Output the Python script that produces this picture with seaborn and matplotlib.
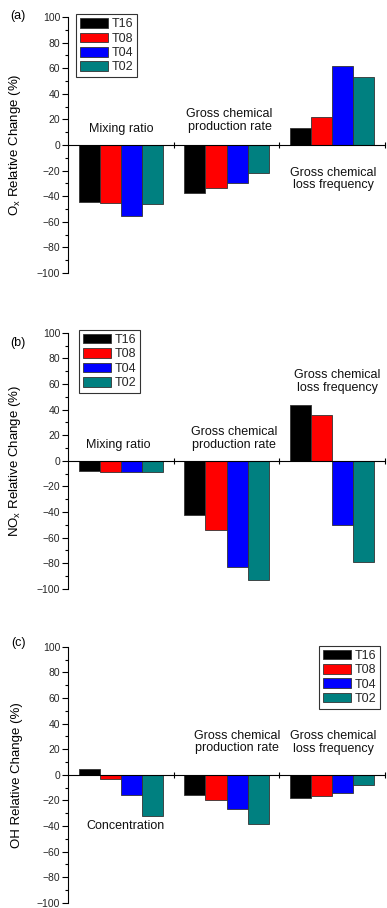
import numpy as np
import pandas as pd
import matplotlib
matplotlib.use("Agg")
import matplotlib.pyplot as plt
from matplotlib.ticker import MultipleLocator
import seaborn as sns

sns.set_theme(style="white")
plt.rcParams["font.family"] = ["Liberation Sans", "DejaVu Sans"]
plt.rcParams["mathtext.default"] = "regular"

runs = ["T16", "T08", "T04", "T02"]
colors = ["#000000", "#FF0000", "#0000FF", "#008080"]
groups = ["g1", "g2", "g3"]

# Relative change (%) per group, listed in run order T16, T08, T04, T02
ox_mixing = [-44.6, -45.7, -55.6, -46.0]
ox_production = [-37.3, -33.4, -29.5, -21.7]
ox_loss = [13.0, 22.0, 61.4, 53.0]

nox_mixing = [-8.3, -8.6, -9.1, -8.9]
nox_production = [-42.2, -53.9, -83.0, -93.2]
nox_loss = [43.2, 35.9, -50.0, -79.4]

oh_concentration = [4.7, -3.6, -15.6, -32.5]
oh_production = [-15.6, -20.0, -27.0, -38.2]
oh_loss = [-18.4, -16.9, -14.0, -8.3]

y_ticks = [-100, -80, -60, -40, -20, 0, 20, 40, 60, 80, 100]

panels = [
    dict(tag="(a)", ylabel="O$_x$ Relative Change (%)",
         values=[ox_mixing, ox_production, ox_loss],
         texts=[("Mixing ratio", 1.0, 12.3),
                ("Gross chemical\nproduction rate", 2.03, 19.0),
                ("Gross chemical\nloss frequency", 3.01, -26.6)],
         legend=dict(loc="upper left", bbox_to_anchor=(0.025, 1.01))),
    dict(tag="(b)", ylabel="NO$_x$ Relative Change (%)",
         values=[nox_mixing, nox_production, nox_loss],
         texts=[("Mixing ratio", 0.98, 12.5),
                ("Gross chemical\nproduction rate", 2.07, 17.4),
                ("Gross chemical\nloss frequency", 3.05, 62.0)],
         legend=dict(loc="upper left", bbox_to_anchor=(0.035, 1.01))),
    dict(tag="(c)", ylabel="OH Relative Change (%)",
         values=[oh_concentration, oh_production, oh_loss],
         texts=[("Concentration", 1.04, -39.7),
                ("Gross chemical\nproduction rate", 2.1, 25.7),
                ("Gross chemical\nloss frequency", 3.01, 25.0)],
         legend=dict(loc="upper right", bbox_to_anchor=(0.985, 1.003))),
]

W, H = 387, 908
fig = plt.figure(figsize=(W / 100, H / 100), dpi=100)

ax_left = 68 / W
ax_width = (385 - 68) / W
ax_height = 256 / H
ax_bottoms_px = [273, 588.7, 902.7]
tag_y_px = [16, 343, 643]

for p, bottom_px, tag_y in zip(panels, ax_bottoms_px, tag_y_px):
    ax = fig.add_axes([ax_left, 1 - bottom_px / H, ax_width, ax_height])
    rows = []
    for g, vals in zip(groups, p["values"]):
        for r, v in zip(runs, vals):
            rows.append(dict(group=g, run=r, value=v))
    df = pd.DataFrame(rows)
    sns.barplot(data=df, x="group", y="value", hue="run", order=groups,
                hue_order=runs, palette=colors, width=0.8, saturation=1,
                edgecolor="#333333", linewidth=0.6, ax=ax, errorbar=None)

    ax.set_xlim(-0.5, 2.5)
    ax.set_ylim(-100, 100)
    ax.set_yticks(y_ticks)
    ax.yaxis.set_minor_locator(MultipleLocator(10))
    ax.tick_params(axis="y", which="major", direction="out", length=4,
                   width=0.8, labelsize=7.5, pad=1.5, left=True, color="black")
    ax.tick_params(axis="y", which="minor", direction="out", length=2.5,
                   width=0.8, left=True, color="black")

    # x axis drawn through zero, with ticks at the group separators
    ax.spines["bottom"].set_position(("data", 0))
    ax.spines["top"].set_visible(False)
    ax.spines["right"].set_visible(False)
    for s in ("left", "bottom"):
        ax.spines[s].set_color("black")
        ax.spines[s].set_linewidth(0.8)
    ax.set_xticks([0.5, 1.5, 2.5])
    ax.set_xticklabels([])
    ax.tick_params(axis="x", direction="inout", length=4, width=0.8,
                   bottom=True, color="black")
    ax.set_xlabel("")
    ax.set_ylabel(p["ylabel"], fontsize=9.5, color="black")
    ax.yaxis.set_label_coords(-0.142, 0.5)
    ax.set_facecolor("white")

    for txt, xd, yd in p["texts"]:
        ax.text(xd - 1, yd, txt, ha="center", va="center", fontsize=9,
                color="#111111", linespacing=1.05)

    handles, labels = ax.get_legend_handles_labels()
    leg = ax.legend(handles, labels, frameon=True, fancybox=False,
                    fontsize=9, handlelength=2.25, handleheight=0.8,
                    handletextpad=0.3, labelspacing=0.18, borderpad=0.3,
                    borderaxespad=0.0, **p["legend"])
    leg.get_frame().set_edgecolor("black")
    leg.get_frame().set_linewidth(0.8)

    fig.text(18 / W, 1 - tag_y / H, p["tag"], ha="center", va="center",
             fontsize=9, color="black")

fig.savefig("out.png", dpi=100, facecolor="white")
